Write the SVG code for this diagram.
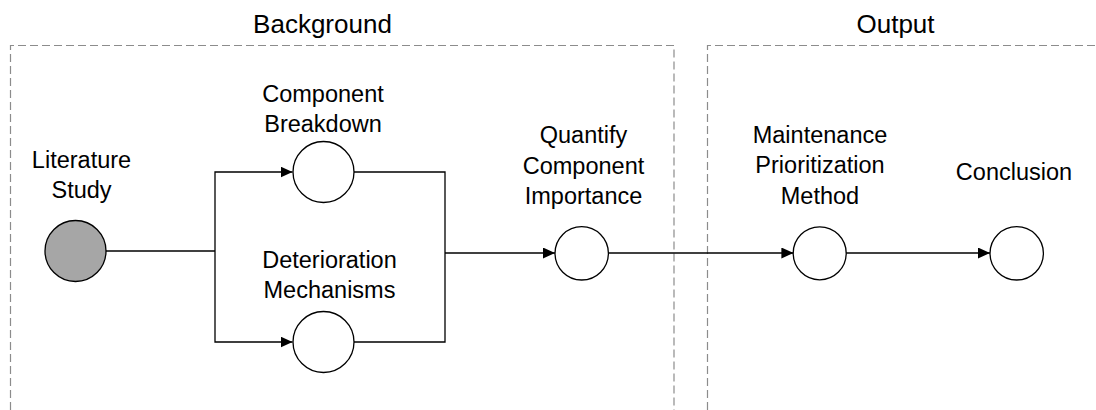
<svg xmlns="http://www.w3.org/2000/svg" width="1096" height="410" viewBox="0 0 1096 410">
<style>
.t{font-family:"Liberation Sans",Arial,sans-serif;font-size:23.5px;fill:#000;text-anchor:middle}
.h{font-family:"Liberation Sans",Arial,sans-serif;font-size:26px;fill:#000;text-anchor:middle}
.box{fill:none;stroke:#8c8c8c;stroke-width:1.2;stroke-dasharray:8,4}
.n{fill:#fff;stroke:#000;stroke-width:1.3}
.c{fill:none;stroke:#000;stroke-width:1.3}
</style>
<defs>
<marker id="a" viewBox="0 0 12 11" refX="12" refY="5.5" markerWidth="12" markerHeight="11" markerUnits="userSpaceOnUse" orient="auto">
<path d="M0,0 L12,5.5 L0,11 z" fill="#000"/>
</marker>
</defs>
<g id="background">
<path class="box" d="M10.5,410 V45.5 H674 V410"/>
<text class="h" x="322.5" y="33">Background</text>
</g>
<g id="output">
<path class="box" d="M707.5,410 V45.5 H1096"/>
<text class="h" x="895.5" y="33">Output</text>
</g>
<g id="connectors">
<path class="c" d="M106,251 H215"/>
<path class="c" d="M215,251 V172 H292.5" marker-end="url(#a)"/>
<path class="c" d="M215,251 V342 H292.5" marker-end="url(#a)"/>
<path class="c" d="M354,172 H445 V342 H354"/>
<path class="c" d="M445,253 H555" marker-end="url(#a)"/>
<path class="c" d="M608.3,253 H793.4" marker-end="url(#a)"/>
<path class="c" d="M846,253 H990" marker-end="url(#a)"/>
</g>
<g id="literature-study">
<circle cx="75.5" cy="251" r="30.5" fill="#a6a6a6" stroke="#000" stroke-width="1.3"/>
<text class="t" x="81.5" y="168">Literature</text>
<text class="t" x="81.5" y="198">Study</text>
</g>
<g id="component-breakdown">
<circle class="n" cx="323.5" cy="172" r="30.5"/>
<text class="t" x="323" y="101.7">Component</text>
<text class="t" x="323" y="131.7">Breakdown</text>
</g>
<g id="deterioration-mechanisms">
<circle class="n" cx="323.5" cy="342" r="30.5"/>
<text class="t" x="329.5" y="267.7">Deterioration</text>
<text class="t" x="329.5" y="297.7">Mechanisms</text>
</g>
<g id="quantify-component-importance">
<circle class="n" cx="581.7" cy="253.3" r="26.7"/>
<text class="t" x="583.5" y="143.3">Quantify</text>
<text class="t" x="583.5" y="174">Component</text>
<text class="t" x="583.5" y="204">Importance</text>
</g>
<g id="maintenance-prioritization-method">
<circle class="n" cx="819.7" cy="253.3" r="26.5"/>
<text class="t" x="820" y="143.3">Maintenance</text>
<text class="t" x="820" y="173.3">Prioritization</text>
<text class="t" x="820" y="204">Method</text>
</g>
<g id="conclusion">
<circle class="n" cx="1016.7" cy="253.3" r="26.7"/>
<text class="t" x="1014" y="180">Conclusion</text>
</g>
</svg>
